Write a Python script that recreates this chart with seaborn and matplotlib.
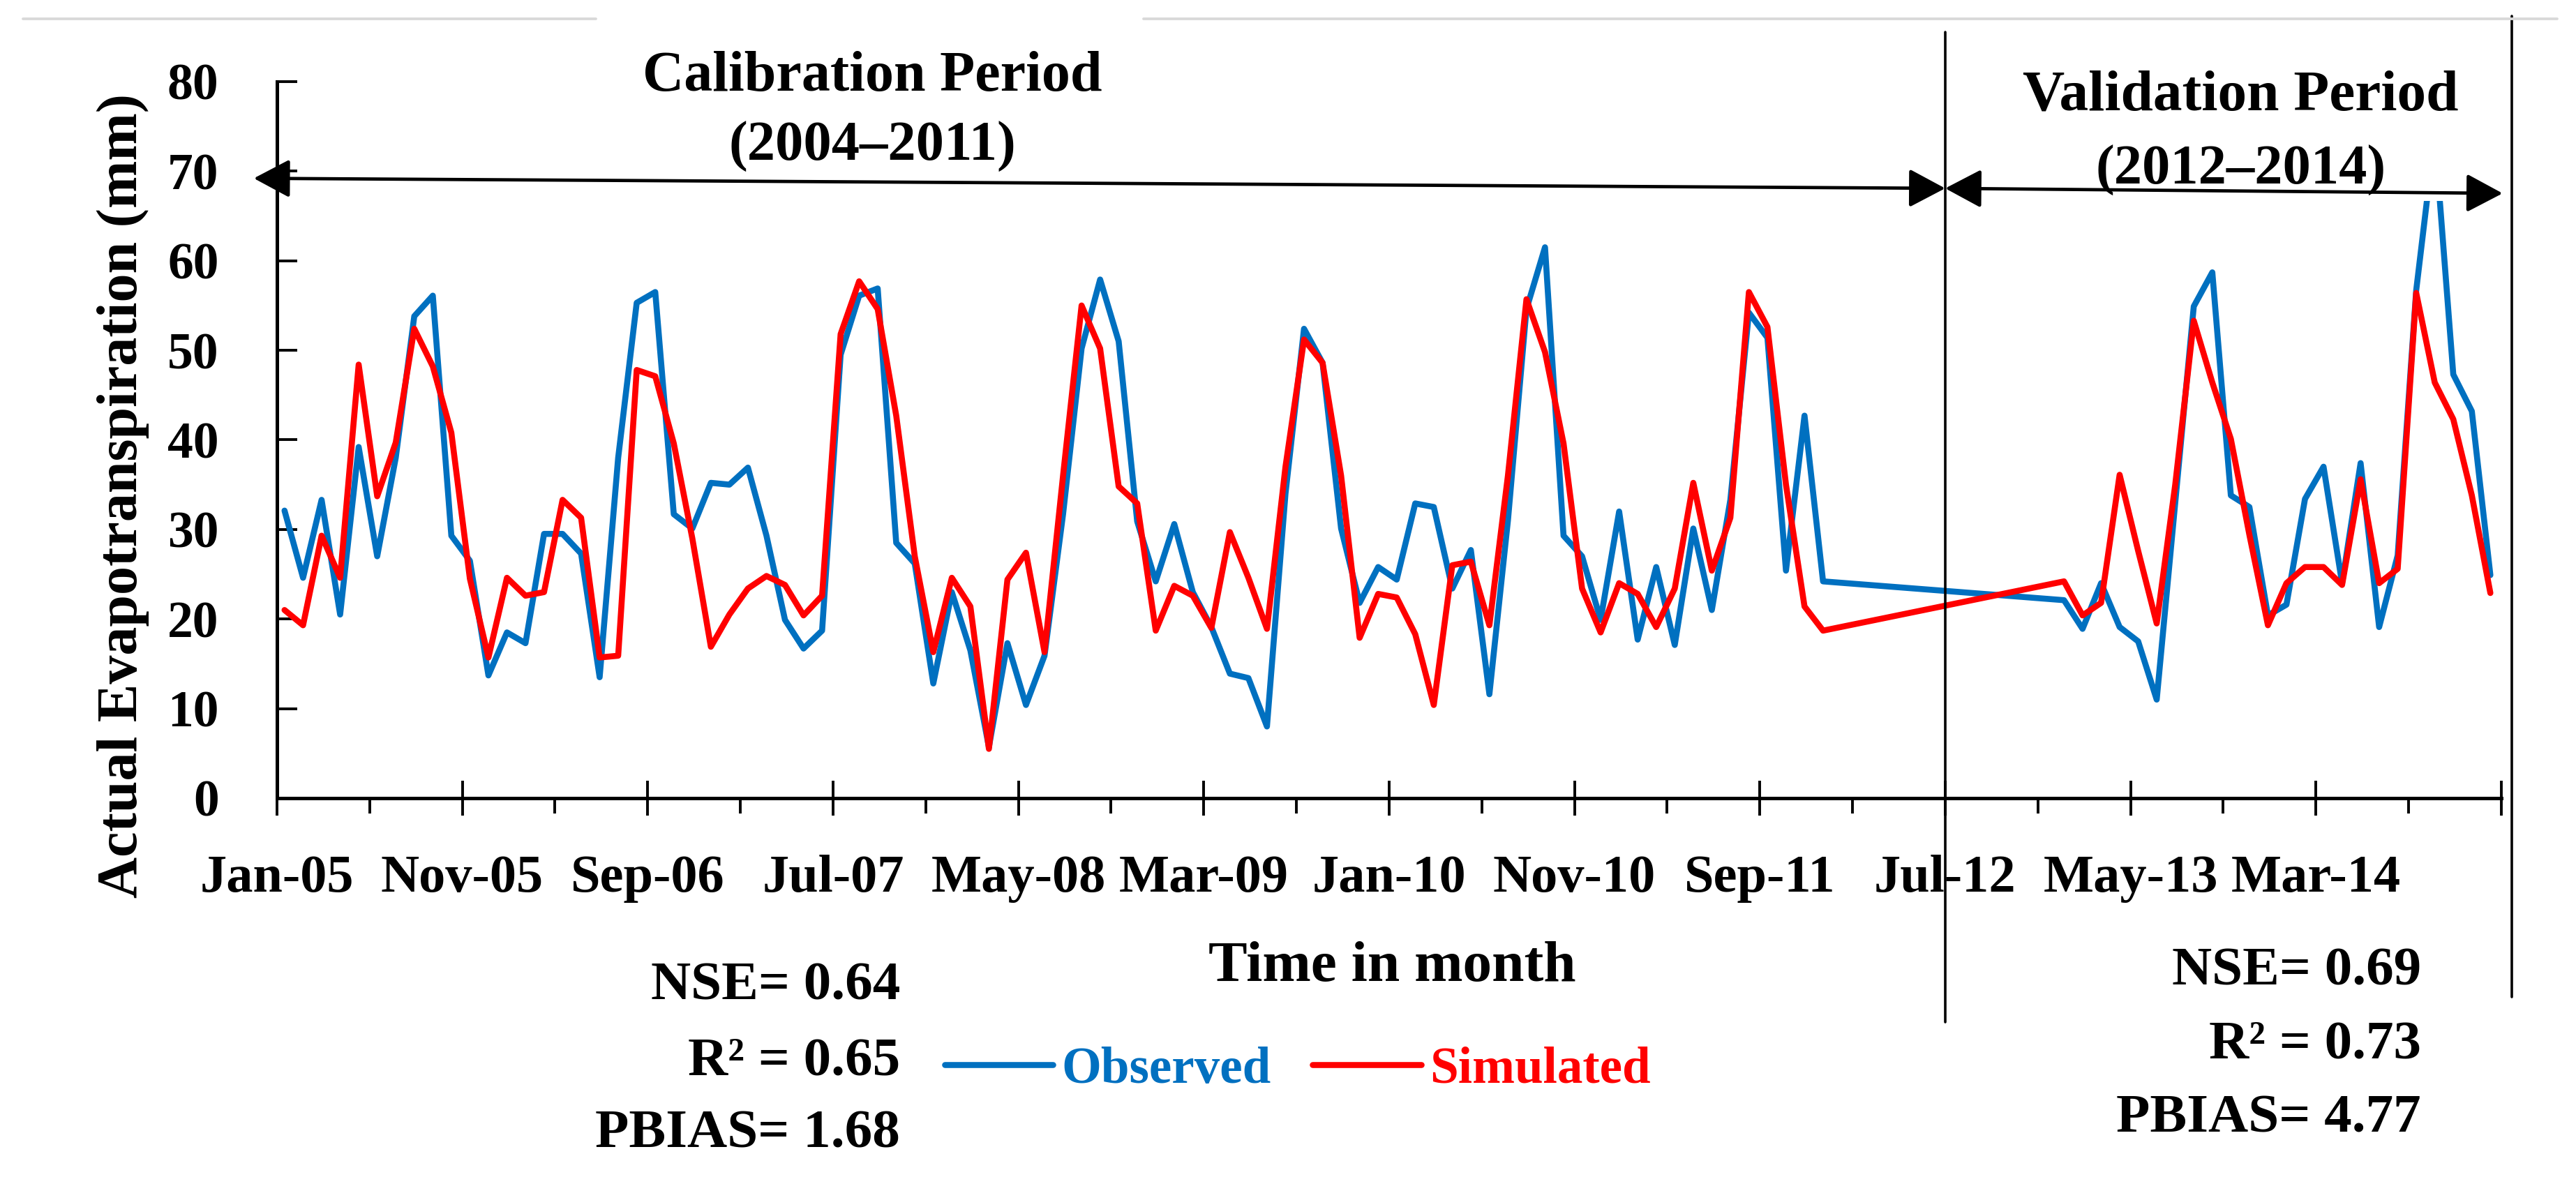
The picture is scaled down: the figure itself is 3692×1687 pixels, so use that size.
import numpy as np
import pandas as pd
import matplotlib
matplotlib.use("Agg")
import matplotlib.pyplot as plt
from matplotlib.patches import FancyArrowPatch, Rectangle
from matplotlib.lines import Line2D
import seaborn as sns

# month index counted from Jan-05 (0) to Dec-14 (119); 2012 (84-95) has no data
month = list(range(0, 84)) + list(range(96, 120))

observed = [32.1, 24.6, 33.3, 20.5, 39.2, 27.0, 38.0, 53.8, 56.1, 29.3,
            26.5, 13.7, 18.5, 17.3, 29.5, 29.5, 27.3, 13.5, 38.0, 55.3,
            56.5, 31.7, 30.1, 35.2, 35.0, 36.9, 29.3, 19.9, 16.7, 18.7,
            49.5, 56.1, 56.9, 28.5, 26.2, 12.8, 23.0, 16.5, 5.7, 17.3,
            10.4, 15.9, 31.7, 50.2, 57.9, 51.0, 30.9, 24.2, 30.6, 23.0,
            19.1, 13.9, 13.4, 8.0, 34.0, 52.4, 48.6, 30.1, 21.8, 25.8,
            24.4, 32.9, 32.5, 23.4, 27.7, 11.6, 31.0, 54.6, 61.5, 29.3,
            27.0, 19.9, 32.0, 17.7, 25.8, 17.1, 30.1, 21.0, 33.3, 54.2,
            51.4, 25.4, 42.7, 24.2,
            22.1, 18.9, 24.0, 19.1, 17.5, 11.0, 33.0, 54.9, 58.7, 33.8,
            32.5, 20.4, 21.6, 33.4, 37.0, 24.0, 37.4, 19.1, 27.1, 56.7,
            74.0, 47.3, 43.2, 24.9]

simulated = [21.0, 19.3, 29.3, 24.6, 48.4, 33.7, 39.7, 52.4, 48.2, 40.8,
             24.5, 15.7, 24.6, 22.6, 23.0, 33.3, 31.3, 15.7, 15.9, 47.8,
             47.1, 39.6, 29.0, 16.9, 20.5, 23.4, 24.8, 23.8, 20.4, 22.6,
             51.8, 57.7, 54.6, 42.7, 27.0, 16.3, 24.6, 21.4, 5.5, 24.4,
             27.4, 16.3, 36.0, 55.0, 50.2, 34.8, 32.9, 18.7, 23.7, 22.6,
             19.0, 29.7, 24.6, 18.9, 37.0, 51.2, 48.6, 36.0, 17.9, 22.8,
             22.4, 18.3, 10.4, 26.0, 26.4, 19.3, 36.0, 55.7, 49.8, 39.6,
             23.4, 18.5, 24.0, 22.8, 19.1, 23.4, 35.2, 25.4, 31.3, 56.5,
             52.6, 35.0, 21.4, 18.7,
             24.2, 20.4, 21.8, 36.1, 27.6, 19.5, 35.0, 53.3, 46.4, 40.1,
             29.4, 19.3, 24.0, 25.8, 25.8, 23.8, 35.6, 24.0, 25.6, 56.4,
             46.4, 42.3, 33.8, 22.9]

tick_labels = ["Jan-05", "Nov-05", "Sep-06", "Jul-07", "May-08", "Mar-09",
               "Jan-10", "Nov-10", "Sep-11", "Jul-12", "May-13", "Mar-14", ""]
calib_stats = ["NSE= 0.64", "R\u00b2 = 0.65", "PBIAS= 1.68"]
valid_stats = ["NSE= 0.69", "R\u00b2 = 0.73", "PBIAS= 4.77"]

colors = {"Observed": "#0070C0", "Simulated": "#FF0000"}

df = pd.concat([
    pd.DataFrame({"month": month, "aet": observed, "series": "Observed"}),
    pd.DataFrame({"month": month, "aet": simulated, "series": "Simulated"}),
])

sns.set_style("white")
plt.rcParams["font.family"] = ["Liberation Serif", "DejaVu Serif"]
plt.rcParams["font.weight"] = "bold"
plt.rcParams["text.color"] = "black"
plt.rcParams["axes.labelcolor"] = "black"

fig = plt.figure(figsize=(18.46, 8.435), dpi=200)
ax = fig.add_axes([0.1075, 0.3219, 0.8635, 0.6088])

sns.lineplot(data=df, x="month", y="aet", hue="series", palette=colors,
             linewidth=3.1, ax=ax)

ax.set_xlim(-0.41, 119.59)
ax.set_ylim(0, 80)
ax.set_yticks(range(0, 81, 10))
ax.set_xticks(np.arange(-0.41, 120, 10))
ax.set_xticks(np.arange(4.59, 120, 10), minor=True)
ax.set_xticklabels(tick_labels)

for s in ["top", "right"]:
    ax.spines[s].set_visible(False)
for s in ["left", "bottom"]:
    ax.spines[s].set_color("black")
    ax.spines[s].set_linewidth(1.8)

ax.tick_params(axis="x", which="major", direction="inout", length=18, width=1.4,
               pad=20, labelsize=27.5, colors="black", bottom=True)
ax.tick_params(axis="x", which="minor", direction="out", length=8, width=1.4,
               colors="black", bottom=True)
ax.tick_params(axis="y", direction="in", length=10.5, width=1.4, pad=30,
               labelsize=26.5, colors="black", left=True)

ax.set_xlabel("Time in month", fontsize=30, fontweight="bold")
ax.xaxis.set_label_coords(0.5013, -0.200)
ax.set_ylabel("Actual Evapotranspiration (mm)", fontsize=29.5, fontweight="bold")
ax.yaxis.set_label_coords(-0.0574, 0.4216)

# white box under the validation heading hides the top of the last peak
ax.add_patch(Rectangle((0.953, 0.833), 0.034, 0.2, transform=ax.transAxes,
                       facecolor="white", edgecolor="none", zorder=4, clip_on=False))

# period arrows
arrow_kw = dict(arrowstyle="<|-|>,head_length=16,head_width=8.5", mutation_scale=1,
                color="black", lw=1.7, shrinkA=0, shrinkB=0,
                transform=ax.transAxes, clip_on=False, zorder=5)
ax.add_patch(FancyArrowPatch((-0.0104, 0.865), (0.750, 0.851), **arrow_kw))
ax.add_patch(FancyArrowPatch((0.750, 0.851), (1.0006, 0.844), **arrow_kw))

# separator and right border lines
ax.plot([0.75, 0.75], [-0.3126, 1.069], color="black", lw=1.3,
        transform=ax.transAxes, clip_on=False)
ax.plot([1.0047, 1.0047], [-0.2775, 1.0915], color="black", lw=1.3,
        transform=ax.transAxes, clip_on=False)

fig.text(0.3386, 0.9229, "Calibration Period", ha="center", va="baseline",
         fontsize=29.5, fontweight="bold")
fig.text(0.3386, 0.8637, "(2004\u20132011)", ha="center", va="baseline",
         fontsize=29, fontweight="bold")
fig.text(0.8697, 0.9069, "Validation Period", ha="center", va="baseline",
         fontsize=30, fontweight="bold")
fig.text(0.8700, 0.8435, "(2012\u20132014)", ha="center", va="baseline",
         fontsize=29, fontweight="bold")

for txt, yy in zip(calib_stats, [0.1506, 0.0871, 0.0249]):
    fig.text(0.3494, yy, txt, ha="right", va="baseline", fontsize=28.5, fontweight="bold")
for txt, yy in zip(valid_stats, [0.1636, 0.1008, 0.0385]):
    fig.text(0.9399, yy, txt, ha="right", va="baseline", fontsize=28.5, fontweight="bold")

handles, labels = ax.get_legend_handles_labels()
ax.legend(handles, labels, ncol=2, frameon=False, loc="center left",
          bbox_to_anchor=(0.3667, 0.0907), bbox_transform=fig.transFigure,
          borderaxespad=0, borderpad=0, handlelength=2.13, handletextpad=0.16,
          columnspacing=0.82, labelcolor="linecolor",
          prop={"family": "Liberation Serif", "weight": "bold", "size": 26.3})

# faint rules at the top of the page
fig.add_artist(Line2D([33 / 3692, 854 / 3692], [0.984, 0.984], color="#d9d9d9", lw=1.4))
fig.add_artist(Line2D([1639 / 3692, 3665 / 3692], [0.984, 0.984], color="#d9d9d9", lw=1.4))

fig.savefig("out.png", dpi=200, facecolor="white")
